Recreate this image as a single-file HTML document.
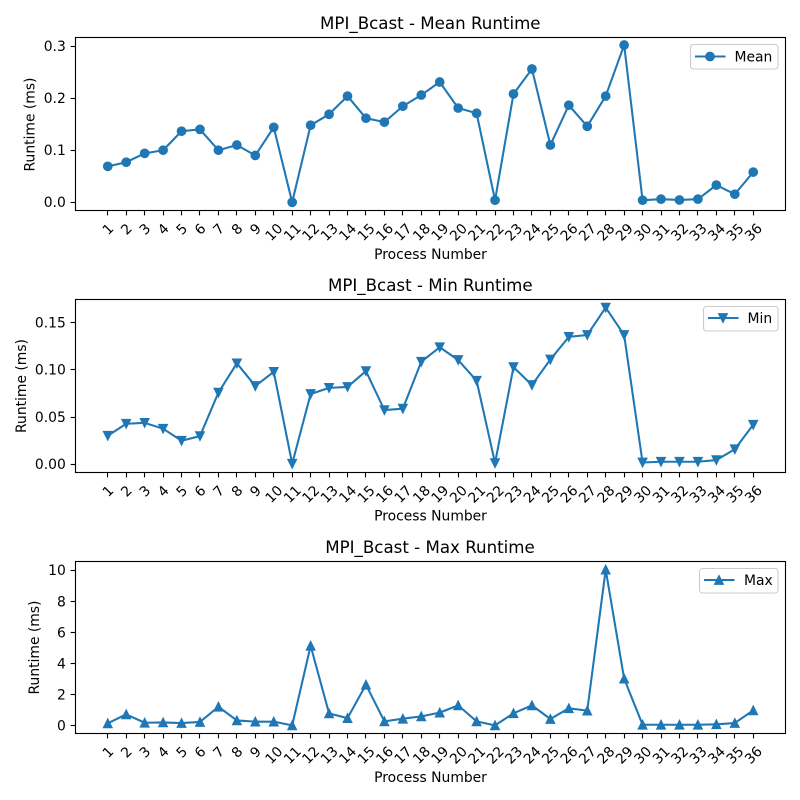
<!DOCTYPE html>
<html>
<head>
<meta charset="utf-8">
<title>MPI_Bcast Runtime</title>
<style>
html,body{margin:0;padding:0;background:#fff;}
svg{display:block;font-family:"DejaVu Sans","Liberation Sans",sans-serif;}
text{fill:#000;}
.title{font-size:16.67px;text-anchor:middle;}
.label{font-size:13.89px;text-anchor:middle;}
.tick{font-size:13.89px;}
.frame{fill:#fff;stroke:#000;stroke-width:1.11;}
.legend-box{fill:#fff;fill-opacity:.8;stroke:#ccc;stroke-width:1.11;}
.series{fill:none;stroke:#1f77b4;stroke-width:2.08;stroke-linejoin:round;stroke-linecap:square;}
.mark{fill:#1f77b4;stroke:#1f77b4;stroke-width:1.39;}
.tickmark{stroke:#000;stroke-width:1.11;}
</style>
</head>
<body>
<svg id="chart" width="800" height="800" viewBox="0 0 800 800" xmlns="http://www.w3.org/2000/svg">
  <rect x="0" y="0" width="800" height="800" fill="#fff"/>

  <g id="panel-mean">
    <rect class="frame" x="75.5" y="37.5" width="710" height="173"/>
    <text class="title" x="430.3" y="29">MPI_Bcast - Mean Runtime</text>
    <text class="label" x="430.5" y="259">Process Number</text>
    <text class="label" transform="translate(34.5 124.5) rotate(-90)">Runtime (ms)</text>
  </g>

  <g id="panel-min">
    <rect class="frame" x="75.5" y="299.5" width="710" height="173"/>
    <text class="title" x="430.3" y="291">MPI_Bcast - Min Runtime</text>
    <text class="label" x="430.5" y="520.5">Process Number</text>
    <text class="label" transform="translate(26 386) rotate(-90)">Runtime (ms)</text>
  </g>

  <g id="panel-max">
    <rect class="frame" x="75.5" y="561.5" width="710" height="172"/>
    <text class="title" x="430" y="553">MPI_Bcast - Max Runtime</text>
    <text class="label" x="430.5" y="782">Process Number</text>
    <text class="label" transform="translate(39 647.5) rotate(-90)">Runtime (ms)</text>
  </g>

  <g id="legend-mean">
    <rect class="legend-box" x="690.5" y="44.5" width="87.5" height="24.5" rx="3"/>
    <line class="series" x1="696" y1="56.5" x2="724.5" y2="56.5"/>
    <circle class="mark" cx="710" cy="56.5" r="4.17"/>
    <text class="tick" x="734.5" y="61.5">Mean</text>
  </g>
  <g id="legend-min">
    <rect class="legend-box" x="703.5" y="306.5" width="74.5" height="24.5" rx="3"/>
    <line class="series" x1="709" y1="318" x2="737.5" y2="318"/>
    <polygon class="mark" points="723,322.2 718.8,313.8 727.2,313.8"/>
    <text class="tick" x="747.5" y="323">Min</text>
  </g>
  <g id="legend-max">
    <rect class="legend-box" x="699.5" y="568.5" width="78.5" height="24.5" rx="3"/>
    <line class="series" x1="705" y1="580" x2="733.5" y2="580"/>
    <polygon class="mark" points="719,575.8 714.8,584.2 723.2,584.2"/>
    <text class="tick" x="744" y="585">Max</text>
  </g>
</svg>

<script>
const processNumbers = [1,2,3,4,5,6,7,8,9,10,11,12,13,14,15,16,17,18,19,20,21,22,23,24,25,26,27,28,29,30,31,32,33,34,35,36];

const meanValues = [0.069,0.077,0.094,0.100,0.1365,0.140,0.100,0.110,0.090,0.144,0.000,0.148,0.169,0.204,0.1615,0.154,0.1845,0.206,0.231,0.181,0.171,0.004,0.208,0.256,0.110,0.1865,0.146,0.204,0.302,0.004,0.006,0.0045,0.006,0.033,0.0155,0.058];
const minValues = [0.0303,0.043,0.044,0.0378,0.025,0.030,0.076,0.107,0.083,0.098,0.0007,0.0745,0.081,0.082,0.0988,0.0575,0.059,0.1087,0.124,0.1105,0.0886,0.0014,0.103,0.084,0.111,0.135,0.137,0.166,0.137,0.002,0.0028,0.0028,0.0028,0.0046,0.016,0.042];
const maxValues = [0.15,0.73,0.19,0.21,0.17,0.24,1.22,0.34,0.26,0.26,0.02,5.15,0.79,0.49,2.64,0.28,0.45,0.60,0.84,1.31,0.28,0.02,0.80,1.31,0.43,1.12,0.97,10.05,3.03,0.06,0.06,0.06,0.06,0.09,0.17,0.99];

const meanTicks = [0.0,0.1,0.2,0.3];
const meanTickLabels = ["0.0","0.1","0.2","0.3"];
const minTicks = [0,0.05,0.10,0.15];
const minTickLabels = ["0.00","0.05","0.10","0.15"];
const maxTicks = [0,2,4,6,8,10];
const maxTickLabels = ["0","2","4","6","8","10"];

const NS = "http://www.w3.org/2000/svg";
const plotLeft = 75.5, plotRight = 785.5;

function xScale(n){
  return plotLeft + (n - (-0.75)) / 38.5 * (plotRight - plotLeft);
}
function makeYScale(zeroPx, pxPerUnit){
  return function(v){ return zeroPx - v * pxPerUnit; };
}
function snap(p){ return Math.round(p - 0.5) + 0.5; }

function svgEl(tag, parent){
  const el = document.createElementNS(NS, tag);
  parent.appendChild(el);
  return el;
}

function drawPanel(prefix, groupId, bottom, yScale, values, yTicks, yTickLabels, markerKind){
  const g = document.getElementById(groupId);

  processNumbers.forEach(function(n){
    const x = xScale(n);
    const t = svgEl("line", g);
    t.setAttribute("class", "tickmark");
    t.setAttribute("x1", snap(x));
    t.setAttribute("x2", snap(x));
    t.setAttribute("y1", bottom);
    t.setAttribute("y2", bottom + 4.86);
    
    

    const lbl = svgEl("text", g);
    const s = String(n);
    const cy = bottom + (s.length > 1 ? 21.5 : 18.5);
    lbl.setAttribute("class", "tick");
    lbl.setAttribute("text-anchor", "middle");
    lbl.setAttribute("transform", "translate(" + x + " " + cy + ") rotate(-45)");
    lbl.setAttribute("x", 0);
    lbl.setAttribute("y", 5);
    lbl.textContent = s;
    
    
  });

  yTicks.forEach(function(v, i){
    const y = yScale(v);
    const t = svgEl("line", g);
    t.setAttribute("class", "tickmark");
    t.setAttribute("x1", plotLeft - 4.86);
    t.setAttribute("x2", plotLeft);
    t.setAttribute("y1", snap(y));
    t.setAttribute("y2", snap(y));
    
    

    const lbl = svgEl("text", g);
    lbl.setAttribute("class", "tick");
    lbl.setAttribute("text-anchor", "end");
    lbl.setAttribute("x", plotLeft - 9.7);
    lbl.setAttribute("y", y + 4.8);
    lbl.textContent = yTickLabels[i];
    
    
  });

  const line = svgEl("polyline", g);
  line.setAttribute("class", "series");
  line.setAttribute("points", values.map(function(v, i){
    return xScale(processNumbers[i]).toFixed(2) + "," + yScale(v).toFixed(2);
  }).join(" "));
  
  

  values.forEach(function(v, i){
    const x = xScale(processNumbers[i]);
    const y = yScale(v);
    const r = 4.17;
    let m;
    if (markerKind === "circle") {
      m = svgEl("circle", g);
      m.setAttribute("cx", x);
      m.setAttribute("cy", y);
      m.setAttribute("r", r);
    } else {
      const dir = markerKind === "down" ? 1 : -1;
      m = svgEl("polygon", g);
      m.setAttribute("points",
        x + "," + (y + dir * r) + " " +
        (x - r) + "," + (y - dir * r) + " " +
        (x + r) + "," + (y - dir * r));
    }
    m.setAttribute("class", "mark");
    
    
  });
}

drawPanel("mean", "panel-mean", 210.5, makeYScale(202.3, 520.7), meanValues, meanTicks, meanTickLabels, "circle");
drawPanel("min", "panel-min", 472.5, makeYScale(464.4, 944.7), minValues, minTicks, minTickLabels, "down");
drawPanel("max", "panel-max", 733.5, makeYScale(725.7, 15.53), maxValues, maxTicks, maxTickLabels, "up");
</script>
</body>
</html>
